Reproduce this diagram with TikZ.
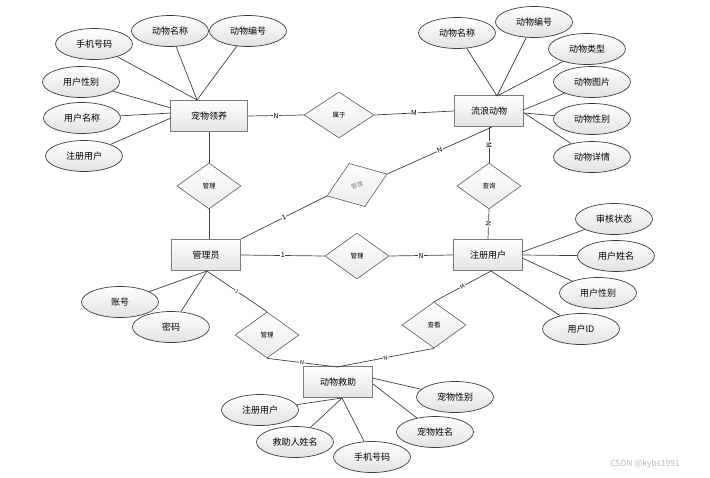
\documentclass[tikz,border=0pt]{standalone}
\usepackage{fontspec}
\newfontfamily\cjk{Noto Sans CJK SC}
\usetikzlibrary{shapes.geometric}
\definecolor{entb}{HTML}{7A7A7A}
\definecolor{entf}{HTML}{E4E4E4}
\definecolor{attb}{HTML}{3C3C3C}
\definecolor{attf}{HTML}{E2E2E2}
\definecolor{relb}{HTML}{5A5A5A}
\definecolor{relf}{HTML}{EAEAEA}
\definecolor{linec}{HTML}{404040}
\begin{document}
\begin{tikzpicture}[x=1pt,y=-1pt,
  ent/.style={rectangle, draw=entb, line width=1.3pt, top color=white, bottom color=entf,
    minimum width=69pt, minimum height=31pt, inner sep=0pt, font=\cjk\fontsize{9}{10}\selectfont},
  att/.style={ellipse, draw=attb, line width=0.7pt, top color=white, bottom color=attf,
    minimum width=77pt, minimum height=31pt, inner sep=0pt, font=\cjk\fontsize{9}{10}\selectfont},
  rel/.style={diamond, draw=relb, line width=0.6pt, top color=white, bottom color=relf,
    minimum width=64pt, minimum height=46pt, inner sep=0pt, font=\cjk\fontsize{6.5}{7}\selectfont},
  lnk/.style={draw=linec, line width=0.7pt},
  card/.style={midway, fill=white, inner sep=0.6pt, font=\cjk\fontsize{7}{7}\selectfont}]
\useasboundingbox (0,0) rectangle (710,477);

% entities
\node[ent, minimum width=77pt] (pet) at (209,116) {宠物领养};
\node[ent] (stray) at (489,111) {流浪动物};
\node[ent] (admin) at (206,255) {管理员};
\node[ent] (user) at (488,255) {注册用户};
\node[ent] (rescue) at (338,382) {动物救助};

% relationships
\node[rel] (r1) at (209,186) {管理};
\node[rel, minimum width=70pt] (belong) at (339,115) {属于};
\node[rel] (query) at (489,186) {查询};
\node[rel] (r2) at (357,256) {管理};
\node[rel, rotate=20, text=gray, font=\cjk\fontsize{6}{6}\selectfont] (r3) at (357,185) {管理};
\node[rel] (r4) at (267,335) {管理};
\node[rel] (view) at (434,325) {查看};

% attributes of 宠物领养
\node[att] (pa1) at (94,44) {手机号码};
\node[att] (pa2) at (170,31) {动物名称};
\node[att] (pa3) at (248,31) {动物编号};
\node[att] (pa4) at (81,82) {用户性别};
\node[att] (pa5) at (82,118) {用户名称};
\node[att] (pa6) at (84,156) {注册用户};
% attributes of 流浪动物
\node[att] (sa1) at (457,33) {动物名称};
\node[att] (sa2) at (534,22) {动物编号};
\node[att] (sa3) at (587,49) {动物类型};
\node[att] (sa4) at (592,82) {动物图片};
\node[att] (sa5) at (592,119) {动物性别};
\node[att] (sa6) at (592,157) {动物详情};
% attributes of 注册用户
\node[att] (ua1) at (614,219) {审核状态};
\node[att] (ua2) at (616,256) {用户姓名};
\node[att] (ua3) at (598,293) {用户性别};
\node[att] (ua4) at (581,329) {用户ID};
% attributes of 管理员
\node[att] (aa1) at (120,302) {账号};
\node[att] (aa2) at (171,327) {密码};
% attributes of 动物救助
\node[att] (ca1) at (260,410) {注册用户};
\node[att] (ca2) at (295,442) {救助人姓名};
\node[att] (ca3) at (372,457) {手机号码};
\node[att] (ca4) at (435,432) {宠物姓名};
\node[att] (ca5) at (455,397) {宠物性别};

% convergence points
\coordinate (pT) at (197,100);
\coordinate (pL1) at (171,108);
\coordinate (pL2) at (171,113);
\coordinate (pL3) at (171,118);
\coordinate (sT) at (497,96);
\coordinate (sR1) at (523,110);
\coordinate (sR2) at (524,113);
\coordinate (sB) at (492,127);
\coordinate (uR1) at (522,252);
\coordinate (uR2) at (522,255);
\coordinate (uR3) at (522,258);
\coordinate (uB) at (491,271);
\coordinate (aT) at (209,239);
\coordinate (aB) at (207,271);
\coordinate (cT) at (337,367);
\coordinate (cR1) at (372,378);
\coordinate (cR2) at (373,384);
\coordinate (cB) at (342,398);

% attribute links
\draw[lnk] (pa1) -- (pT);
\draw[lnk] (pa2) -- (pT);
\draw[lnk] (pa3) -- (pT);
\draw[lnk] (pa4) -- (pL1);
\draw[lnk] (pa5) -- (pL2);
\draw[lnk] (pa6) -- (pL3);
\draw[lnk] (sa1) -- (sT);
\draw[lnk] (sa2) -- (sT);
\draw[lnk] (sa3) -- (sT);
\draw[lnk] (sa4) -- (sR1);
\draw[lnk] (sa5) -- (sR2);
\draw[lnk] (sa6) -- (sR2);
\draw[lnk] (ua1) -- (uR1);
\draw[lnk] (ua2) -- (uR2);
\draw[lnk] (ua3) -- (uR3);
\draw[lnk] (ua4) -- (uB);
\draw[lnk] (aa1) -- (aB);
\draw[lnk] (aa2) -- (aB);
\draw[lnk] (ca1) -- (cB);
\draw[lnk] (ca2) -- (cB);
\draw[lnk] (ca3) -- (cB);
\draw[lnk] (ca4) -- (cR2);
\draw[lnk] (ca5) -- (cR1);

% relationship links
\draw[lnk] (pet.east) -- node[card]{N} (belong.west);
\draw[lnk] (belong.east) -- node[card]{M} (stray.west);
\draw[lnk] (pet.south) -- (r1.north);
\draw[lnk] (r1.south) -- (aT);
\draw[lnk] (admin.north east) -- node[card, sloped]{1} (r3.west);
\draw[lnk] (r3.east) -- node[card, sloped]{N} (sB);
\draw[lnk] (stray.south) -- node[card, sloped]{M} (query.north);
\draw[lnk] (query.south) -- node[card, sloped]{N} (user.north);
\draw[lnk] (admin.east) -- node[card]{1} (r2.west);
\draw[lnk] (r2.east) -- node[card]{N} (user.west);
\draw[lnk] (aB) -- node[card, sloped, font=\cjk\fontsize{5}{5}\selectfont]{1} (r4.north);
\draw[lnk] (r4.south) -- node[card, sloped, font=\cjk\fontsize{5.5}{5.5}\selectfont]{N} (cT);
\draw[lnk] (cT) -- node[card, sloped, font=\cjk\fontsize{5.5}{5.5}\selectfont]{N} (view.south);
\draw[lnk] (view.north) -- node[card, sloped, font=\cjk\fontsize{5.5}{5.5}\selectfont]{M} (uB);

% watermark
\node[font=\cjk\fontsize{8.5}{9}\selectfont, text=gray!55] (wm) at (645,464) {CSDN @kybs1991};
\end{tikzpicture}
\end{document}
